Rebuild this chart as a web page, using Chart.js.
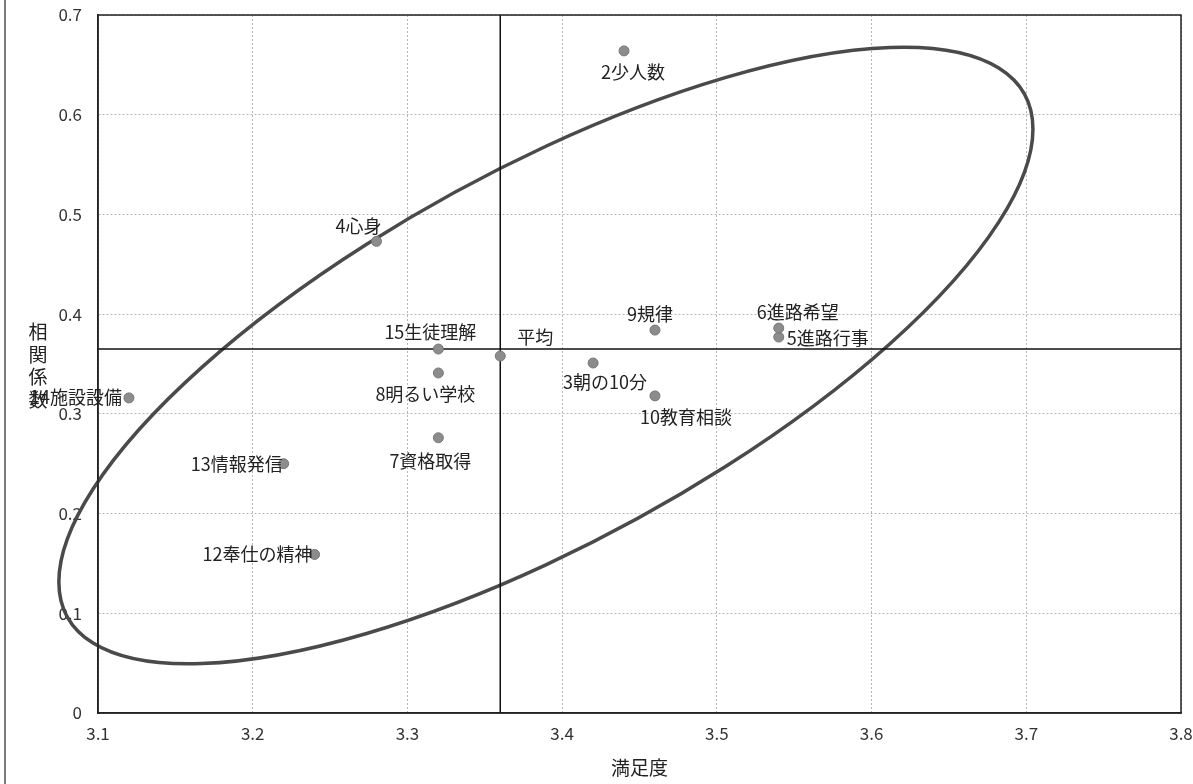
<!DOCTYPE html>
<html>
<head>
<meta charset="utf-8">
<script src="https://cdn.jsdelivr.net/npm/chart.js@4/dist/chart.umd.min.js"></script>
<style>
  body { margin: 0; background: #fff; }
  #wrap { width: 1193px; height: 784px; position: relative; }
</style>
</head>
<body>
<div id="wrap"><canvas id="myChart"></canvas></div>
<script>
// items (満足度 x 相関係数)
let names = ['2少人数', '3朝の10分', '4心身', '5進路行事', '6進路希望', '7資格取得', '8明るい学校',
    '9規律', '10教育相談', '12奉仕の精神', '13情報発信', '14施設設備', '15生徒理解', '平均'];
let satisfaction = [3.44, 3.42, 3.28, 3.54, 3.54, 3.32, 3.32, 3.46, 3.46, 3.24, 3.22, 3.12, 3.32, 3.36];
let correlation = [0.664, 0.351, 0.473, 0.377, 0.386, 0.276, 0.341, 0.384, 0.318, 0.159, 0.250, 0.316, 0.365, 0.358];

// average lines
let avgX = [3.36, 3.36];
let avgXy = [0, 0.7];
let avgYx = [3.1, 3.8];
let avgY = [0.365, 0.365];

// ellipse: centre and two conjugate radius end points
let ellipseCenter = [3.3895, 0.3585];
let ellipseEndA = [3.7043, 0.5855];
let ellipseEndB = [3.3895, 0.1486];

let xTicks = [3.1, 3.8, 0.1];
let yTicks = [0, 0.7, 0.1];

// label placement: [align, dx, dy]
let labelPlace = [
    ['center', 9, 21], ['center', 12, 19], ['center', -18, -15], ['left', 8, 1], ['center', 19, -16],
    ['center', -8, 23], ['center', -13, 21], ['center', -5, -16], ['center', 31, 21],
    ['right', -2, 0], ['right', -1, 0], ['right', -7, -1], ['center', -8, -17], ['center', 35, -19]
];

const font = '"Noto Sans CJK JP", "Noto Sans", sans-serif';

let points = satisfaction.map((v, i) => ({ x: v, y: correlation[i] }));

const extras = {
    id: 'extras',
    beforeDatasetsDraw(chart) {
        const ctx = chart.ctx;
        const xs = chart.scales.x, ys = chart.scales.y;
        const cx = xs.getPixelForValue(ellipseCenter[0]), cy = ys.getPixelForValue(ellipseCenter[1]);
        const ax = xs.getPixelForValue(ellipseEndA[0]) - cx, ay = ys.getPixelForValue(ellipseEndA[1]) - cy;
        const bx = xs.getPixelForValue(ellipseEndB[0]) - cx, by = ys.getPixelForValue(ellipseEndB[1]) - cy;
        ctx.save();
        ctx.beginPath();
        ctx.save();
        ctx.transform(ax, ay, bx, by, cx, cy);
        ctx.arc(0, 0, 1, 0, Math.PI * 2);
        ctx.restore();
        ctx.lineWidth = 3.5;
        ctx.strokeStyle = '#4a4a4a';
        ctx.stroke();
        ctx.restore();
    },
    afterDatasetsDraw(chart) {
        const ctx = chart.ctx;
        const a = chart.chartArea;
        ctx.save();
        // plot frame
        ctx.strokeStyle = '#222';
        ctx.lineWidth = 1.5;
        ctx.strokeRect(a.left, a.top, a.right - a.left, a.bottom - a.top);
        // outer frame left edge
        ctx.lineWidth = 1.2;
        ctx.beginPath();
        ctx.moveTo(5, 0);
        ctx.lineTo(5, 784);
        ctx.stroke();

        // point labels
        const meta = chart.getDatasetMeta(0);
        ctx.font = '18px ' + font;
        ctx.fillStyle = '#222';
        ctx.textBaseline = 'middle';
        meta.data.forEach((pt, i) => {
            const p = labelPlace[i];
            ctx.textAlign = p[0];
            ctx.fillText(names[i], pt.x + p[1], pt.y + p[2]);
        });

        // axis titles
        ctx.textAlign = 'center';
        ctx.font = '19px ' + font;
        ctx.fillText('満足度', (a.left + a.right) / 2, 768);
        const ytitle = '相関係数';
        for (let i = 0; i < ytitle.length; i++) {
            ctx.fillText(ytitle[i], 38, 332 + i * 22.5);
        }
        ctx.restore();
    }
};

let chart = new Chart(document.getElementById('myChart').getContext('2d'), {
    type: 'scatter',
    data: {
        datasets: [
            {
                data: points,
                backgroundColor: '#8c8c8c',
                borderColor: '#777',
                borderWidth: 1,
                pointRadius: 5,
                label: 'items'
            },
            {
                type: 'line',
                data: avgX.map((v, i) => ({ x: v, y: avgXy[i] })),
                borderColor: '#111',
                borderWidth: 1.5,
                pointRadius: 0,
                fill: false
            },
            {
                type: 'line',
                data: avgYx.map((v, i) => ({ x: v, y: avgY[i] })),
                borderColor: '#111',
                borderWidth: 1.5,
                pointRadius: 0,
                fill: false
            }
        ]
    },
    options: {
        responsive: true,
        maintainAspectRatio: false,
        animation: false,
        layout: { padding: { top: 15, right: 12, left: 0, bottom: 0 } },
        plugins: {
            legend: { display: false },
            tooltip: { enabled: false }
        },
        scales: {
            x: {
                type: 'linear',
                min: xTicks[0],
                max: xTicks[1],
                ticks: {
                    stepSize: xTicks[2],
                    padding: 10,
                    color: '#333',
                    font: { size: 17, family: font },
                    callback: v => v.toFixed(1)
                },
                grid: { color: '#b5b5b5', drawTicks: false },
                border: { display: true, color: '#222', width: 1.5, dash: [2, 2] },
                afterFit: s => { s.height = 71; s.paddingLeft = 0; s.paddingRight = 0; }
            },
            y: {
                type: 'linear',
                min: yTicks[0],
                max: yTicks[1],
                ticks: {
                    stepSize: yTicks[2],
                    padding: 16,
                    color: '#333',
                    font: { size: 17, family: font },
                    callback: v => (v === 0 ? '0' : v.toFixed(1))
                },
                grid: { color: '#b5b5b5', drawTicks: false },
                border: { display: true, color: '#222', width: 1.5, dash: [2, 2] },
                afterFit: s => { s.width = 98; s.paddingTop = 0; s.paddingBottom = 0; }
            }
        }
    },
    plugins: [extras]
});
</script>
</body>
</html>
